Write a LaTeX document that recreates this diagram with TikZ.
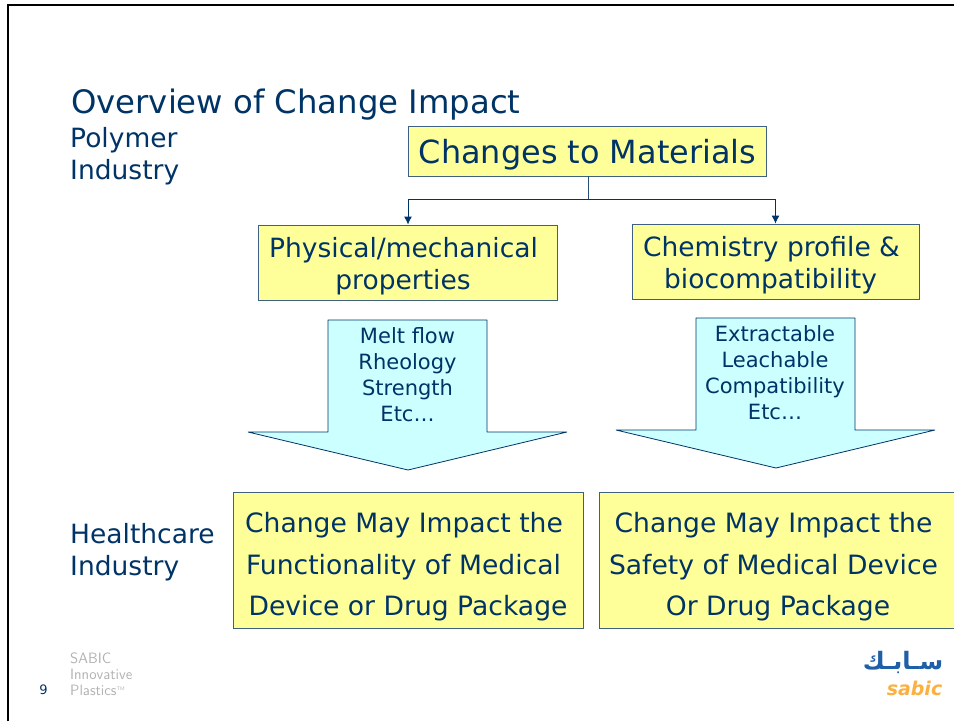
\documentclass[tikz,border=0pt]{standalone}
\usepackage{fontspec}
\setmainfont{DejaVu Sans}
\newfontfamily\arabicfont[Script=Arabic]{DejaVu Sans}
\TeXXeTstate=1
\usetikzlibrary{arrows.meta}
\definecolor{slideblue}{HTML}{003366}
\definecolor{boxyellow}{HTML}{FFFF99}
\definecolor{boxline}{HTML}{3F6080}
\definecolor{arrowcyan}{HTML}{CCFFFF}
\definecolor{logoorange}{HTML}{FBB040}
\definecolor{logoblue}{HTML}{1F5FA8}
\newcommand{\padright}[2]{\mbox{#2\kern#1}}
\tikzset{
    yellowbox/.style={draw=boxline,fill=boxyellow,line width=0.9pt,text=slideblue,align=center,inner sep=0pt},
    sidelabel/.style={text=slideblue,anchor=base west,align=left,inner sep=0pt,font=\fontsize{26.5}{32}\selectfont},
    arrowlabel/.style={text=slideblue,align=center,inner sep=0pt,font=\fontsize{21}{26}\selectfont},
    bigarrow/.style={draw=slideblue,fill=arrowcyan,line width=0.8pt,line join=bevel}
}
\begin{document}
\begin{tikzpicture}[x=1pt,y=-1pt]
        \useasboundingbox (0,0) rectangle (954,721);

        % Cornice
        \draw[line width=2.5pt] (8,721) -- (8,5) -- (954,5);

        % Titolo e etichette
        \node[sidelabel,font=\fontsize{32.3}{38}\selectfont] (title) at (71,113) {Overview of Change Impact};
        \node[sidelabel,anchor=west] (polymer) at (70,156) {Polymer\\Industry};
        \node[sidelabel,anchor=west] (health) at (70,552) {Healthcare\\Industry};

        % Riquadri
        \node[yellowbox,minimum width=358pt,minimum height=50pt,font=\fontsize{31.9}{38}\selectfont] (materials) at (587.5,151) {\rule{0pt}{31pt}Changes to Materials};
        \node[yellowbox,minimum width=299pt,minimum height=75pt,font=\fontsize{26.5}{32}\selectfont] (physical) at (407.5,262.5) {\rule{0pt}{27pt}\padright{8pt}{Physical/mechanical}\\\padright{9pt}{properties}};
        \node[yellowbox,minimum width=287pt,minimum height=75pt,font=\fontsize{26.5}{32}\selectfont] (chemistry) at (775.5,261.5) {\rule{0pt}{27pt}\padright{8pt}{Chemistry profile \&}\\\padright{10pt}{biocompatibility}};
        \node[yellowbox,minimum width=350pt,minimum height=136pt,font=\fontsize{26.6}{41.5}\selectfont] (functionality) at (408,560) {\rule{0pt}{34pt}\padright{8pt}{Change May Impact the}\\\padright{9pt}{Functionality of Medical}\\Device or Drug Package};
        \node[yellowbox,minimum width=370pt,minimum height=136pt,font=\fontsize{26.6}{41.5}\selectfont] (safety) at (784,560) {\rule{0pt}{34pt}\padright{21pt}{Change May Impact the}\\\padright{21pt}{Safety of Medical Device}\\\padright{12pt}{Or Drug Package}};

        % Collegamenti
        \coordinate (branch) at (588,199);
        \draw[boxline!60!slideblue,line width=0.9pt] (materials.south -| branch) -- (branch);
        \draw[slideblue,line width=0.9pt,-{Latex[length=8pt,width=8pt]}] (branch) -| (physical.north -| 408,0);
        \draw[slideblue,line width=0.9pt,-{Latex[length=8pt,width=8pt]}] (branch) -| (chemistry.north);

        % Frecce
        \foreach \name/\dx/\dy in {left/0/0,right/368/-2} {
            \draw[bigarrow,shift={(\dx,\dy)}] (328,320) -- (487,320) -- (487,432) -- (567,432)
                -- (408,470) -- (248,432) -- (328,432) -- cycle;
        }
        \node[arrowlabel] (meltflow) at (407.5,374.5) {Melt flow\\Rheology\\Strength\\Etc…};
        \node[arrowlabel] (extract) at (775,372.5) {Extractable\\Leachable\\Compatibility\\Etc…};

        % Piede
        \node[text=slideblue,inner sep=0pt,font=\fontsize{13}{15}\selectfont] (pagenum) at (43.5,690) {9};
        \node[text=black!30,anchor=north west,align=left,inner sep=0pt,font=\fontsize{15}{16}\selectfont\sffamily] (brand) at (70,653) {SABIC\\Innovative\\Plastics\textsuperscript{\tiny TM}};

        % Logo
        \node[text=logoblue,inner sep=0pt,font=\fontsize{24}{24}\selectfont\bfseries\arabicfont] (logoarabic) at (903,662) {\beginR سـابـك\endR};
        \node[text=logoorange,inner sep=0pt,font=\fontsize{19}{19}\selectfont\bfseries\itshape] (logolatin) at (914.5,688) {sabic};
\end{tikzpicture}
\end{document}
